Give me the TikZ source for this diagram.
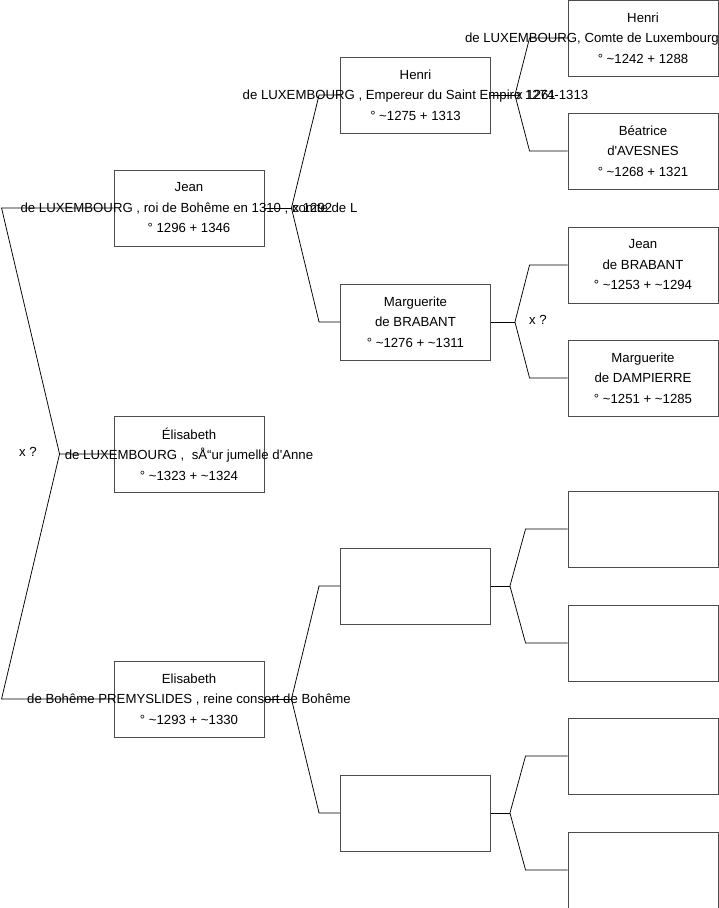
\documentclass[tikz,border=0pt]{standalone}
\usepackage{fontspec}
\setmainfont{Liberation Sans}
\usetikzlibrary{calc}

\tikzset{
  person/.style={draw=black!70, fill=white, minimum width=150pt, minimum height=76pt, inner sep=0pt, line width=0.9pt},
  persontext/.style={align=center, font=\fontsize{13.2}{20.5}\selectfont, inner sep=0pt},
  link/.style={draw=black, line width=0.75pt},
  mariage/.style={font=\fontsize{13.2}{15}\selectfont, inner sep=0pt, anchor=west}
}

\newcommand\apos{\textquotesingle}
% fourche : enfant, pere, mere, sortie, entree
\newcommand\fork[5]{%
  \coordinate (#1-v) at ($(#1.east)+(#4,0)$);
  \draw[link] (#2.west) -- ++(-#5,0) -- (#1-v) -- ($(#3.west)+(-#5,0)$) -- (#3.west);
  \draw[link] (#1.east) -- (#1-v);
}

\begin{document}
\begin{tikzpicture}[x=1pt,y=-1pt]
	\useasboundingbox (0,0) rectangle (719,908);

	% Generation 1
	\def\xa{189}
	\node[person] (jean) at (\xa,208) {};
	\node[person] (elis) at (\xa,454) {};
	\node[person] (elisb) at (\xa,699) {};

	% Generation 2
	\def\xb{415.5}
	\node[person] (henri) at (\xb,95) {};
	\node[person] (marg) at (\xb,322) {};
	\node[person] (vide1) at (\xb,586) {};
	\node[person] (vide2) at (\xb,813) {};

	% Generation 3
	\def\xc{643}
	\node[person] (henrisix) at (\xc,38) {};
	\node[person] (beat) at (\xc,151) {};
	\node[person] (jeanb) at (\xc,265) {};
	\node[person] (margd) at (\xc,378) {};
	\node[person] (vide3) at (\xc,529) {};
	\node[person] (vide4) at (\xc,643) {};
	\node[person] (vide5) at (\xc,756) {};
	\node[person] (vide6) at (\xc,870) {};

	% Textes
	\node[persontext] (jean-t) at (jean) {Jean\\de LUXEMBOURG , roi de Bohême en 1310 , comte de L\\° 1296 + 1346};
	\node[persontext] (elis-t) at (elis) {Élisabeth\\de LUXEMBOURG ,\ \ sÅ“ur jumelle d\apos Anne\\° \textasciitilde1323 + \textasciitilde1324};
	\node[persontext] (elisb-t) at (elisb) {Elisabeth\\de Bohême PREMYSLIDES , reine consort de Bohême\\° \textasciitilde1293 + \textasciitilde1330};
	\node[persontext] (henri-t) at (henri) {Henri\\de LUXEMBOURG , Empereur du Saint Empire 1274-1313\\° \textasciitilde1275 + 1313};
	\node[persontext] (marg-t) at (marg) {Marguerite\\de BRABANT\\° \textasciitilde1276 + \textasciitilde1311};
	\node[persontext] (henrisix-t) at (henrisix) {Henri\\\makebox[356pt][l]{de LUXEMBOURG, Comte de Luxembourg}\\° \textasciitilde1242 + 1288};
	\node[persontext] (beat-t) at (beat) {Béatrice\\d\apos AVESNES\\° \textasciitilde1268 + 1321};
	\node[persontext] (jeanb-t) at (jeanb) {Jean\\de BRABANT\\° \textasciitilde1253 + \textasciitilde1294};
	\node[persontext] (margd-t) at (margd) {Marguerite\\de DAMPIERRE\\° \textasciitilde1251 + \textasciitilde1285};

	% Liens vers les parents
	\coordinate (elis-v) at ($(elis.west)+(-54,0)$);
	\draw[link] (elis.west) -- (elis-v) -- ($(jean.west)+(-112,0)$) -- (jean.west);
	\draw[link] (elis-v) -- ($(elisb.west)+(-112,0)$) -- (elisb.west);
	\fork{jean}{henri}{marg}{27}{21}
	\fork{elisb}{vide1}{vide2}{27}{21}
	\fork{henri}{henrisix}{beat}{24}{38}
	\fork{marg}{jeanb}{margd}{24}{38}
	\fork{vide1}{vide3}{vide4}{19}{42}
	\fork{vide2}{vide5}{vide6}{19}{42}

	% Mariages
	\node[mariage] (m-elis) at (19,452) {x ?};
	\node[mariage] (m-jean) at ($(jean-v)+(1,0)$) {x 1292};
	\node[mariage] (m-henri) at ($(henri-v)+(1,0)$) {x 1261};
	\node[mariage] (m-marg) at ($(marg-v)+(14,-2)$) {x ?};
\end{tikzpicture}
\end{document}
